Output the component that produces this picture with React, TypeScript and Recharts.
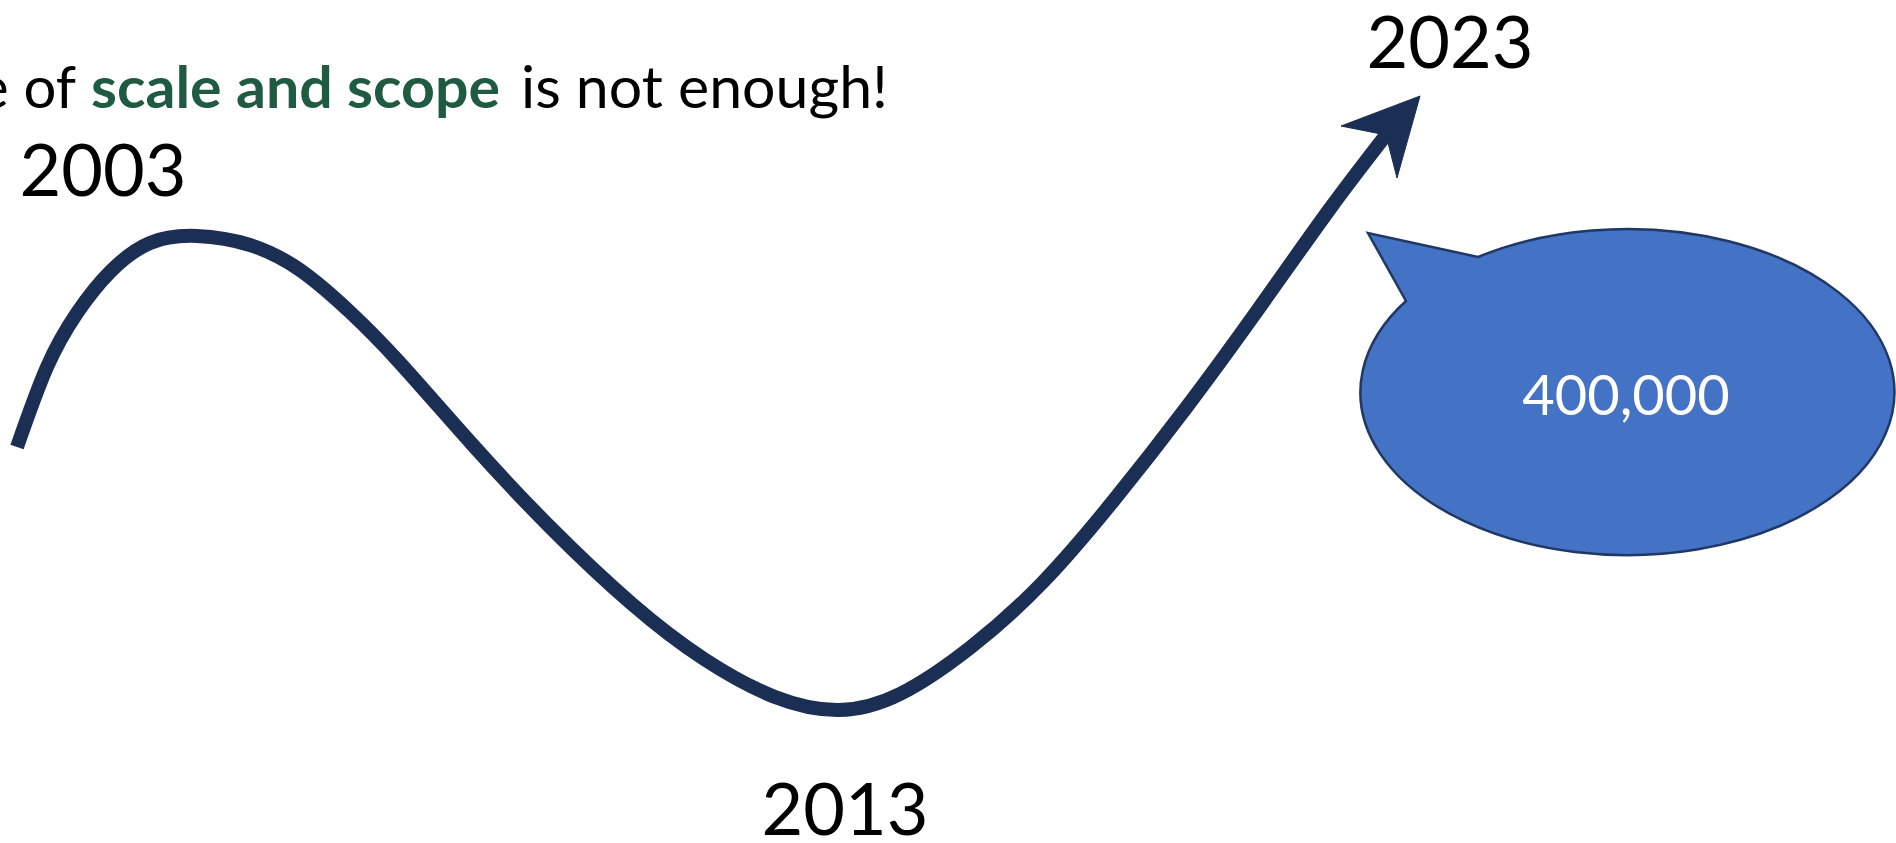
import React from 'react';
import { LineChart, Line, XAxis, YAxis, ReferenceDot, Customized } from 'recharts';

// ---------- data ----------
// horizontal progress of the curve (slide units) and its level (higher = up)
const curveProgress = [17, 47, 77, 110, 150, 197, 250, 300, 350, 400, 471, 550, 632, 704, 775, 839, 900, 971, 1043, 1114, 1186, 1257, 1329, 1386];
const curveLevel = [396, 476, 530, 571, 600, 607, 598, 573, 531, 480, 400, 316, 239, 184, 146, 133, 149, 196, 261, 343, 435, 532, 633, 708];

const years = ['2003', '2013', '2023'];
const calloutValue = '400,000';
const calloutAt = { progress: 1626, level: 451 };
const titleParts = ['e of', 'scale and scope', 'is not enough!'];

const rows = curveProgress.map((p, i) => ({ progress: p, level: curveLevel[i] }));

// ---------- layout / style ----------
const W = 1896;
const H = 843;
const NAVY = '#1B2E54';
const GREEN = '#1F5B40';
const FONT = 'Lato, "Open Sans", sans-serif';

const yearPos = [
  { x: 103, y: 196 },
  { x: 845, y: 835 },
  { x: 1450, y: 68 },
];

const ArrowDot = (props: any) => {
  const { cx, cy, index } = props;
  if (index !== rows.length - 1 || cx == null) return <g key={`dot-${index}`} />;
  const d = `M ${cx + 34} ${cy - 39} L ${cx - 45} ${cy - 9} L ${cx} ${cy} L ${cx + 11} ${cy + 43} Z`;
  return <path key={`dot-${index}`} d={d} fill={NAVY} stroke={NAVY} strokeWidth={1} strokeLinejoin="miter" />;
};

const Bubble = (props: any) => {
  const { cx, cy } = props;
  if (cx == null) return <g />;
  const rx = 267;
  const ry = 163;
  const tip = [cx - 258, cy - 159];
  const up = [cx - 148, cy - 135];
  const low = [cx - 220, cy - 91];
  const d = `M ${low[0]} ${low[1]} L ${tip[0]} ${tip[1]} L ${up[0]} ${up[1]} A ${rx} ${ry} 0 1 1 ${low[0]} ${low[1]} Z`;
  return (
    <g>
      <path d={d} fill="#4472C4" stroke="#1F3864" strokeWidth={2.5} />
      <text x={cx} y={cy + 23} textAnchor="middle" fill="#FFFFFF" fontFamily={FONT} fontSize={56}>
        {calloutValue}
      </text>
    </g>
  );
};

const Annotations = () => (
  <g>
    <text x={76} y={108} textAnchor="end" fontFamily={FONT} fontSize={58} fill="#000">
      {titleParts[0]}
    </text>
    <text x={91} y={108} fontFamily={FONT} fontSize={58} fontWeight={700} fill={GREEN} textLength={409} lengthAdjust="spacingAndGlyphs">
      {titleParts[1]}
    </text>
    <text x={521} y={108} fontFamily={FONT} fontSize={58} fill="#000" textLength={367} lengthAdjust="spacingAndGlyphs">
      {titleParts[2]}
    </text>
    {years.map((y, i) => (
      <text key={y} x={yearPos[i].x} y={yearPos[i].y} textAnchor="middle" fontFamily={FONT} fontSize={72} fill="#000">
        {y}
      </text>
    ))}
  </g>
);

export default function App() {
  return (
    <div style={{ position: 'absolute', left: 0, top: 0, width: W, height: H, background: '#fff', overflow: 'hidden' }}>
      <LineChart width={W} height={H} data={rows} margin={{ top: 0, right: 0, bottom: 0, left: 0 }}>
        <XAxis dataKey="progress" type="number" domain={[0, W]} hide allowDataOverflow />
        <YAxis type="number" domain={[0, H]} hide allowDataOverflow />
        <Line
          type="natural"
          dataKey="level"
          stroke={NAVY}
          strokeWidth={14}
          dot={ArrowDot}
          activeDot={false}
          isAnimationActive={false}
        />
        <ReferenceDot x={calloutAt.progress} y={calloutAt.level} r={1} shape={Bubble} ifOverflow="visible" />
        <Customized component={Annotations} />
      </LineChart>
    </div>
  );
}
